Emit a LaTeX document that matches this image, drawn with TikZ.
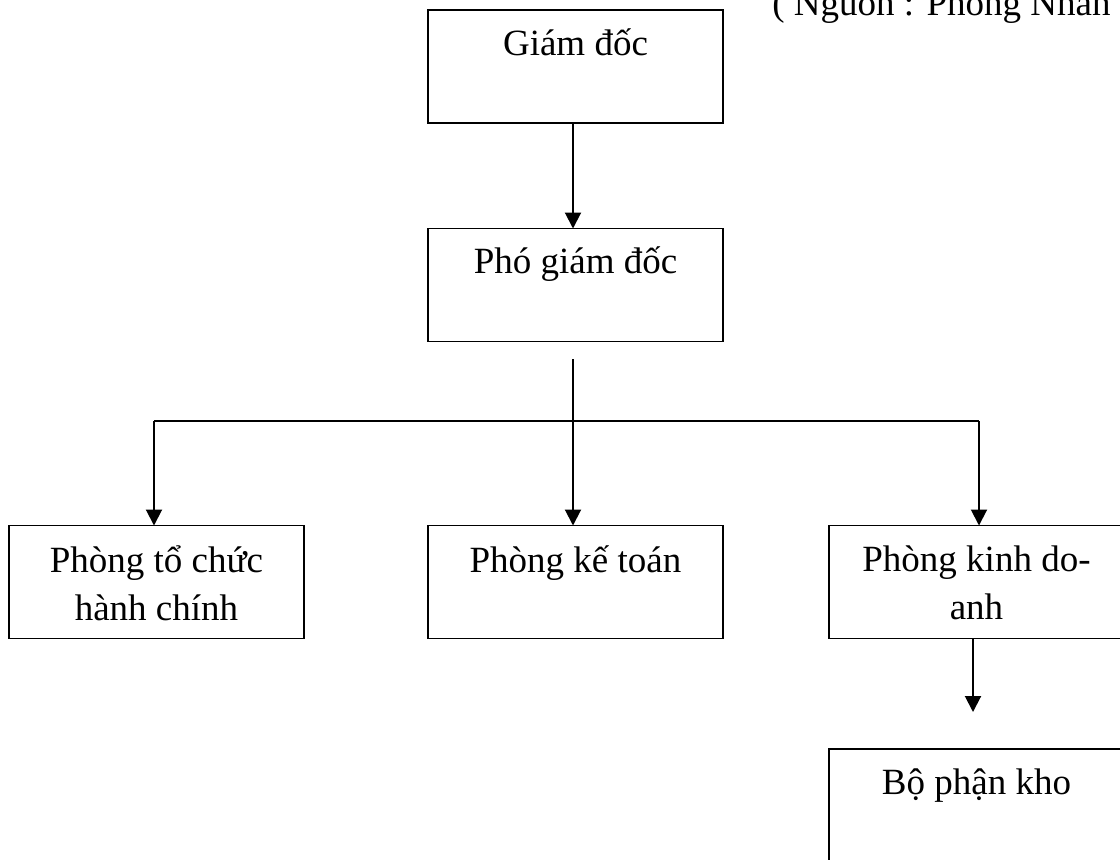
\documentclass[tikz,border=0pt]{standalone}
\usepackage{fontspec}
\setmainfont{Liberation Serif}
\usetikzlibrary{arrows.meta}
\begin{document}
\begin{tikzpicture}[x=0.5pt,y=-0.5pt,
  box/.style={draw,line width=0.8pt,minimum width=147.5pt,minimum height=56.5pt,inner sep=0pt,outer sep=0pt},
  lab/.style={anchor=base,inner sep=0pt,font=\fontsize{18.5}{24}\selectfont},
  conn/.style={line width=1pt},
  arr/.style={line width=1pt,-{Triangle[length=8pt,width=8pt]}}]
\useasboundingbox (0,0) rectangle (1120,859);
\clip (0,0) rectangle (1120,859);
% boxes
\node[box] (gd) at (575.5,66.5) {};
\node[box] (pgd) at (575.5,285) {};
\node[box] (tc) at (156.5,582) {};
\node[box] (kt) at (575.5,582) {};
\node[box] (kd) at (976.5,582) {};
\node[box] (kho) at (976.5,805.5) {};
% labels
\node[lab] (tgd) at (575.5,55) {Giám đốc};
\node[lab] (tpgd) at (575.5,273) {Phó giám đốc};
\node[lab] (ttc1) at (156.5,572) {Phòng tổ chức};
\node[lab] (ttc2) at (156.5,620) {hành chính};
\node[lab] (tkt) at (575.5,572) {Phòng kế toán};
\node[lab] (tkd1) at (976.5,571) {Phòng kinh do-};
\node[lab] (tkd2) at (976.5,619) {anh};
\node[lab] (tkho) at (976.5,794) {Bộ phận kho};
\node[lab,anchor=base west] (src) at (772,15) {( Nguồn : Phòng Nhân};
% connectors
\coordinate (a1) at (573,123);
\draw[arr] (a1) -- (a1 |- pgd.north);
\coordinate (v0) at (573,359);
\draw[arr] (v0) -- (v0 |- kt.north);
\coordinate (hl) at (154,421);
\coordinate (hr) at (979,421);
\draw[conn] (hl) -- (hr);
\draw[arr] (hl) -- (hl |- tc.north);
\draw[arr] (hr) -- (hr |- kd.north);
\coordinate (b0) at (973,639);
\coordinate (b1) at (973,712);
\draw[arr] (b0) -- (b1);
\end{tikzpicture}
\end{document}
